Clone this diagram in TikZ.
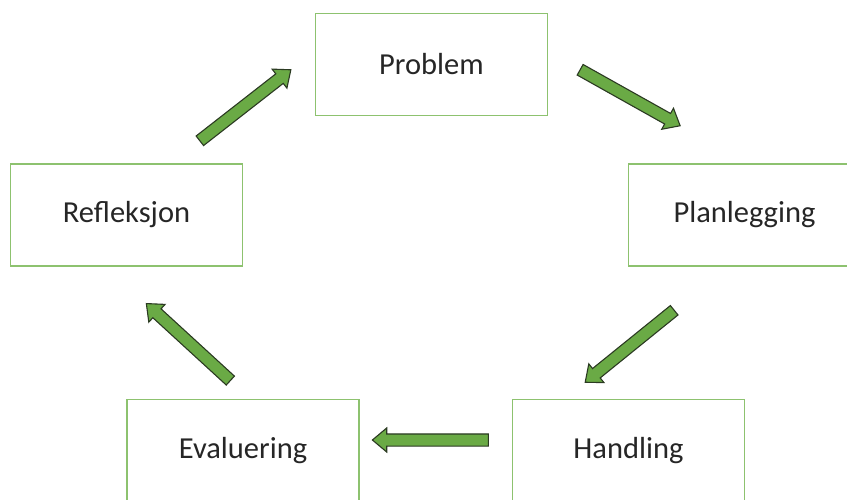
\documentclass[tikz,border=0pt]{standalone}
\usepackage{fontspec}
\setmainfont{Carlito}
\usetikzlibrary{shapes.arrows,calc}
\definecolor{boxgreen}{HTML}{8DC26F}
\definecolor{arrowfill}{HTML}{6AAA45}
\definecolor{arrowline}{HTML}{2B3A22}
\definecolor{txt}{HTML}{262626}
\tikzset{
  stagebox/.style={draw=boxgreen, line width=1.2pt, minimum width=232pt, minimum height=102pt,
    inner sep=0pt, font=\fontsize{30.5}{36}\selectfont, text=txt},
  blockarr/.style={single arrow, draw=arrowline, fill=arrowfill, line width=1.1pt,
    inner sep=0pt, text height=0pt, text depth=0pt, minimum width=23pt,
    single arrow head extend=6pt, single arrow tip angle=80, single arrow head indent=0pt}
}
\newcommand\blockarrow[2]{%
  \path let \p1=(#1), \p2=(#2), \n1={atan2(\y2-\y1,\x2-\x1)}, \n2={veclen(\x2-\x1,\y2-\y1)} in
    ($(#1)!0.5!(#2)$) node[blockarr, minimum height=\n2, inner ysep=5.5pt, rotate=\n1] {};}
\begin{document}
\begin{tikzpicture}[x=1pt,y=-1pt]
\useasboundingbox (0,0) rectangle (847,500);
\begin{scope}
\clip (0,0) rectangle (847,500);
\node[stagebox] (problem) at (431.5,64.5) {Problem};
\node[stagebox] (plan) at (744.5,215) {Planlegging};
\node[stagebox] (handling) at (628.5,450.5) {Handling};
\node[stagebox] (eval) at (243,450.5) {Evaluering};
\node[stagebox] (refl) at (126.5,215) {Refleksjon};
\end{scope}
\coordinate (a1s) at (197,143); \coordinate (a1e) at (288,72);
\coordinate (a2s) at (577,68);  \coordinate (a2e) at (677,124);
\coordinate (a3s) at (677,308); \coordinate (a3e) at (588,380);
\coordinate (a4s) at (492,440); \coordinate (a4e) at (376,440);
\coordinate (a5s) at (233,383); \coordinate (a5e) at (149,306);
\blockarrow{a1s}{a1e}
\blockarrow{a2s}{a2e}
\blockarrow{a3s}{a3e}
\blockarrow{a4s}{a4e}
\blockarrow{a5s}{a5e}
\end{tikzpicture}
\end{document}
